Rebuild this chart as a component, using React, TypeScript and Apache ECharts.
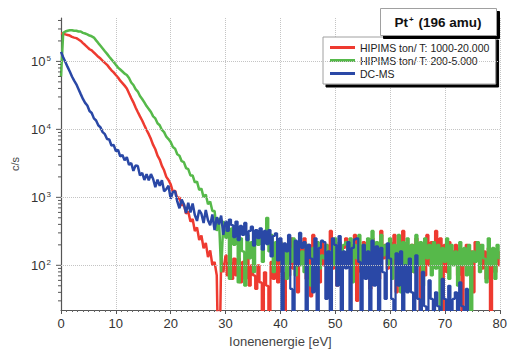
import React, { useEffect, useRef } from "react";
import * as echarts from "echarts";

const FONT = "Liberation Sans, Arial, Helvetica, sans-serif";
const ENERGY_STEP = 0.4; // eV between samples
const TAIL_START_INDEX = 75; // 30 eV: from here the counts are noise-dominated

const seriesNames = ["HIPIMS ton/ T: 1000-20.000", "HIPIMS ton/ T: 200-5.000", "DC-MS"];
const seriesColors = ["#ee3a30", "#56b94a", "#2a48a6"];

// counts per second, one value every 0.4 eV from 0 to 80 eV (values of 1 fall below the axis)
const redCounts: (number | null)[] = [
  2.6e5, 2.57e5, 2.5e5, 2.45e5, 2.4e5, 2.3e5, 2.24e5, 2.2e5, 2.1e5, 2.0e5,
  1.86e5, 1.74e5, 1.62e5, 1.51e5, 1.45e5, 1.35e5, 1.26e5, 1.17e5, 1.1e5, 1.02e5,
  9.5e4, 8.9e4, 8.1e4, 7.4e4, 6.9e4, 6.3e4, 5.8e4, 5.2e4, 4.8e4, 4.4e4,
  4.0e4, 3.4e4, 2.9e4, 2.5e4, 2.1e4, 1.8e4, 1.55e4, 1.35e4, 1.15e4, 9.8e3,
  8.5e3, 7.2e3, 5.9e3, 5.1e3, 4.1e3, 3.6e3, 2.9e3, 2.5e3, 2.0e3, 1.8e3,
  1.55e3, 1.2e3, 1.26e3, 950, 1.0e3, 760, 790, 575, 620, 440,
  480, 320, 360, 235, 275, 178, 214, 132, 166, 100,
  112, 71, 1, 126, 79, 140, 71, 112, 63, 126,
  71, 126, 56, 112, 63, 140, 50, 100, 71, 45,
  100, 56, 1, 79, 50, 1, 112, 63, 160, 56,
  220, 79, 1, 160, 71, 250, 89, 180, 40, 200,
  126, 250, 63, 200, 35, 280, 100, 160, 56, 220,
  100, 200, 40, 320, 89, 160, 50, 220, 112, 180,
  250, 100, 200, 63, 280, 30, 160, 79, 220, 100,
  180, 45, 250, 112, 200, 63, 320, 126, 200, 89,
  220, 100, 280, 40, 200, 126, 320, 89, 180, 112,
  200, 79, 250, 100, 1, 160, 71, 280, 100, 220,
  126, 320, 100, 250, 1, 200, 79, 220, 112, 160,
  200, 71, 180, 1, 126, 200, 79, 160, 40, 220,
  126, 200, 89, 160, 63, 180, 1, 126, 79, 160,
  100,
];

const greenCounts: (number | null)[] = [
  6.0e4, 2.63e5, 2.75e5, 2.82e5, 2.88e5, 2.88e5, 2.82e5, 2.82e5, 2.75e5, 2.75e5,
  2.63e5, 2.57e5, 2.5e5, 2.4e5, 2.34e5, 2.24e5, 2.04e5, 1.86e5, 1.7e5, 1.55e5,
  1.41e5, 1.29e5, 1.17e5, 1.07e5, 9.8e4, 8.9e4, 8.1e4, 7.6e4, 7.1e4, 6.6e4,
  6.3e4, 5.7e4, 4.9e4, 4.5e4, 3.9e4, 3.6e4, 3.1e4, 2.8e4, 2.5e4, 2.2e4,
  2.0e4, 1.8e4, 1.55e4, 1.45e4, 1.23e4, 1.15e4, 9.8e3, 9.1e3, 7.8e3, 7.2e3,
  6.5e3, 5.5e3, 5.2e3, 4.3e3, 4.1e3, 3.4e3, 3.3e3, 2.7e3, 2.6e3, 2.1e3,
  2.1e3, 1.66e3, 1.7e3, 1.29e3, 1.35e3, 1.0e3, 1.1e3, 790, 870, 630,
  630, 320, 500, 79, 450, 250, 400, 63, 350, 200,
  320, 56, 250, 160, 50, 280, 126, 220, 79, 250,
  200, 320, 112, 250, 500, 160, 280, 79, 220, 126,
  220, 100, 200, 63, 180, 112, 250, 71, 160, 100,
  160, 79, 200, 100, 50, 180, 112, 220, 89, 140,
  126, 200, 63, 160, 100, 250, 79, 180, 112, 200,
  220, 100, 250, 56, 200, 126, 280, 89, 200, 140,
  250, 112, 320, 160, 220, 79, 280, 140, 200, 100,
  250, 63, 200, 126, 280, 40, 220, 100, 250, 56,
  200, 79, 280, 100, 220, 50, 250, 126, 200, 71,
  220, 89, 200, 1, 180, 112, 250, 63, 200, 100,
  160, 50, 220, 100, 180, 71, 200, 1, 160, 112,
  220, 79, 200, 126, 56, 250, 100, 180, 63, 200,
  126,
];

const blueCounts: (number | null)[] = [
  1.38e5, 1.15e5, 9.8e4, 8.3e4, 7.1e4, 6.0e4, 5.2e4, 4.6e4, 3.9e4, 3.3e4,
  2.8e4, 2.45e4, 2.24e4, 1.86e4, 1.74e4, 1.45e4, 1.35e4, 1.15e4, 1.07e4, 9.1e3,
  8.5e3, 7.2e3, 7.1e3, 5.8e3, 5.9e3, 4.8e3, 5.0e3, 4.0e3, 4.2e3, 3.5e3,
  3.9e3, 3.0e3, 3.2e3, 2.45e3, 2.95e3, 2.9e3, 2.1e3, 2.3e3, 1.8e3, 2.2e3,
  1.78e3, 2.2e3, 1.86e3, 1.41e3, 1.82e3, 1.48e3, 1.78e3, 1.23e3, 1.32e3, 1.48e3,
  950, 1.2e3, 1.23e3, 870, 690, 930, 790, 590, 830, 600,
  810, 550, 450, 650, 575, 420, 650, 460, 390, 560,
  330, 510, 400, 540, 280, 440, 320, 470, 390, 260,
  440, 235, 380, 280, 420, 235, 320, 370, 195, 330,
  250, 350, 170, 320, 205, 330, 135, 270, 295, 118,
  250, 1, 210, 160, 280, 45, 1, 230, 100, 300,
  180, 220, 1, 200, 126, 40, 250, 1, 180, 230,
  220, 32, 160, 1, 250, 200, 50, 270, 1, 160,
  90, 220, 1, 180, 240, 250, 112, 1, 200, 63,
  160, 1, 230, 50, 190, 1, 180, 79, 32, 210,
  126, 32, 1, 150, 50, 160, 1, 100, 40, 126,
  40, 1, 140, 32, 1, 80, 25, 1, 60, 32,
  1, 40, 25, 1, 63, 32, 1, 50, 1, 32,
  40, 1, 56, 25, 1, 45, 1, null, null, null,
  null, null, null, null, null, null, null, null, null, null,
  null,
];

const decadeLines = [100, 1000, 10000, 100000];
const yMajorTicks = [100, 1000, 10000, 100000];
const yMinorTicks = [
  30, 40, 50, 60, 70, 80, 90,
  200, 300, 400, 500, 600, 700, 800, 900,
  2000, 3000, 4000, 5000, 6000, 7000, 8000, 9000,
  20000, 30000, 40000, 50000, 60000, 70000, 80000, 90000,
  200000, 300000, 400000,
];

const toPoints = (counts: (number | null)[], from: number, to: number) =>
  counts
    .map((c, i) => [Math.round(i * ENERGY_STEP * 10) / 10, c, i])
    .filter((p) => p[1] !== null && (p[2] as number) >= from && (p[2] as number) <= to)
    .map((p) => [p[0], p[1]]);

export default function App() {
  const ref = useRef<HTMLDivElement>(null);

  useEffect(() => {
    if (!ref.current) return;
    const chart = echarts.init(ref.current, undefined, { renderer: "svg" });

    const tickData = [
      ...yMajorTicks.map((v) => [0, v, 5]),
      ...yMinorTicks.map((v) => [0, v, 3]),
    ];

    const lineSeries: any[] = [];
    [redCounts, greenCounts, blueCounts].forEach((counts, k) => {
      const common = {
        type: "line",
        name: seriesNames[k],
        showSymbol: false,
        symbol: "none",
        color: seriesColors[k],
        clip: true,
        silent: true,
        z: 3,
      };
      lineSeries.push({
        ...common,
        data: toPoints(counts, 0, TAIL_START_INDEX),
        lineStyle: { color: seriesColors[k], width: 2.5 },
      });
      lineSeries.push({
        ...common,
        data: toPoints(counts, TAIL_START_INDEX, counts.length - 1),
        step: "middle",
        lineStyle: { color: seriesColors[k], width: 2.2 },
      });
    });

    chart.setOption({
      animation: false,
      backgroundColor: "#ffffff",
      grid: { left: 61, right: 10, top: 18, bottom: 40 },
      xAxis: {
        type: "value",
        min: 0,
        max: 80,
        interval: 10,
        name: "Ionenenergie [eV]",
        nameLocation: "middle",
        nameGap: 25,
        nameTextStyle: { fontSize: 13, color: "#444", fontFamily: FONT },
        axisLine: { show: true, onZero: false, lineStyle: { color: "#555", width: 1.2 } },
        axisTick: { show: true, length: 4, lineStyle: { color: "#555" } },
        minorTick: { show: true, splitNumber: 10, length: 2, lineStyle: { color: "#666" } },
        axisLabel: { fontSize: 13, color: "#333", margin: 7, fontFamily: FONT },
        splitLine: { show: true, lineStyle: { type: "dotted", color: "#c4c4c4", width: 1 } },
      },
      yAxis: {
        type: "log",
        logBase: 10,
        min: 22,
        max: 435000,
        name: "c/s",
        nameLocation: "middle",
        nameGap: 25,
        nameTextStyle: { fontSize: 11, color: "#444", fontFamily: FONT },
        axisLine: { show: true, lineStyle: { color: "#555", width: 1.2 } },
        axisTick: { show: false },
        splitLine: { show: false },
        axisLabel: {
          fontSize: 13,
          color: "#333",
          margin: 10,
          fontFamily: FONT,
          formatter: (v: number) => {
            const e = Math.log10(v);
            const r = Math.round(e);
            if (Math.abs(e - r) > 1e-6) return "";
            return `10{sup|${r}}`;
          },
          rich: {
            sup: { fontSize: 8, verticalAlign: "top", color: "#333", fontFamily: FONT, padding: [0, 0, 6, 1] },
          },
        },
      },
      legend: {
        orient: "vertical",
        left: 323,
        top: 37,
        data: seriesNames,
        icon: "rect",
        itemWidth: 25,
        itemHeight: 3,
        itemGap: 2,
        padding: [5, 6, 5, 7],
        backgroundColor: "#ffffff",
        borderColor: "#a0a0a0",
        borderWidth: 1,
        shadowColor: "#000000",
        shadowBlur: 0,
        shadowOffsetX: 3,
        shadowOffsetY: 3,
        selectedMode: false,
        textStyle: { fontSize: 10.5, color: "#222", fontFamily: FONT },
      },
      graphic: [
        {
          type: "rect",
          left: 380,
          top: 8,
          z: 100,
          shape: { width: 116, height: 27 },
          style: {
            fill: "#ffffff",
            stroke: "#a0a0a0",
            lineWidth: 1,
            shadowColor: "#000000",
            shadowBlur: 0,
            shadowOffsetX: 3,
            shadowOffsetY: 3,
          },
        },
        {
          type: "text",
          x: 438,
          y: 22,
          z: 101,
          style: {
            text: "Pt{sup|+} (196 amu)",
            align: "center",
            verticalAlign: "middle",
            fontSize: 13.5,
            fontWeight: "bold",
            fontFamily: FONT,
            fill: "#111",
            rich: {
              sup: { fontSize: 8, fontWeight: "bold", verticalAlign: "top", fontFamily: FONT, fill: "#111", padding: [0, 1, 6, 1] },
            },
          },
        },
      ],
      series: [
        {
          type: "line",
          name: "grid",
          data: [],
          silent: true,
          z: 1,
          markLine: {
            silent: true,
            symbol: "none",
            label: { show: false },
            lineStyle: { type: "dotted", color: "#c4c4c4", width: 1 },
            data: decadeLines.map((d) => ({ yAxis: d })),
          },
        },
        ...lineSeries,
        {
          type: "custom",
          name: "ticks",
          silent: true,
          clip: false,
          z: 5,
          data: tickData,
          encode: { x: 0, y: 1 },
          renderItem: (_p: any, api: any) => {
            const pt = api.coord([0, api.value(1)]);
            const len = api.value(2);
            return {
              type: "line",
              shape: { x1: pt[0] - len, y1: pt[1], x2: pt[0], y2: pt[1] },
              style: { stroke: "#555", lineWidth: 1 },
            };
          },
        },
      ],
    });

    return () => chart.dispose();
  }, []);

  return (
    <div
      ref={ref}
      style={{ position: "fixed", left: 0, top: 0, width: 510, height: 353, background: "#fff" }}
    />
  );
}
